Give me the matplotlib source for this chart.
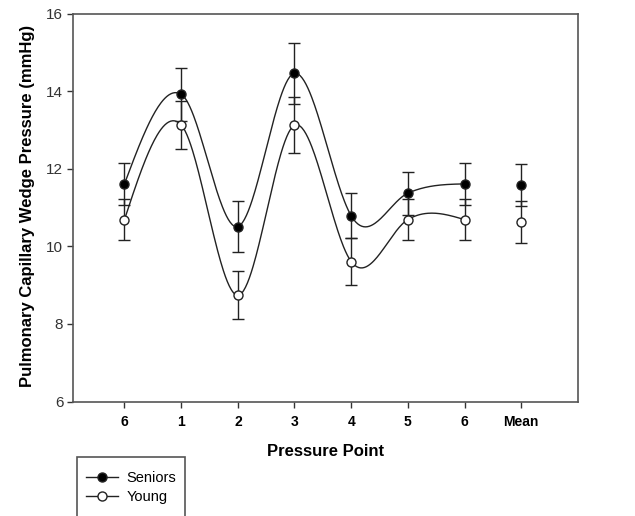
import numpy as np
import matplotlib
matplotlib.use("Agg")
import matplotlib.pyplot as plt
from matplotlib.patches import Rectangle
from matplotlib.lines import Line2D

plt.rcParams['font.family'] = ['Liberation Sans', 'DejaVu Sans']

# Data
points = ["6", "1", "2", "3", "4", "5", "6", "Mean"]
seniors = [11.61, 13.92, 10.51, 14.46, 10.79, 11.37, 11.61, 11.58]
seniors_err = [0.55, 0.68, 0.66, 0.79, 0.58, 0.55, 0.55, 0.55]
young = [10.69, 13.13, 8.74, 13.12, 9.61, 10.69, 10.69, 10.63]
young_err = [0.53, 0.61, 0.62, 0.72, 0.60, 0.53, 0.53, 0.55]


def smooth_curve(y, k=0.8, per_seg=60):
    """
    Cardinal (Hermite) spline through equally spaced points.
    """
    y = np.asarray(y, float)
    n = len(y)
    m = np.zeros(n)
    m[1:-1] = k * (y[2:] - y[:-2])
    m[0] = 1.5 * (y[1] - y[0]) - m[1] / 2
    m[-1] = 1.5 * (y[-1] - y[-2]) - m[-2] / 2
    xs, ys = [], []
    t = np.linspace(0, 1, per_seg)
    for i in range(n - 1):
        h00 = 2 * t**3 - 3 * t**2 + 1
        h10 = t**3 - 2 * t**2 + t
        h01 = -2 * t**3 + 3 * t**2
        h11 = t**3 - t**2
        xs.append(i + t)
        ys.append(h00 * y[i] + h10 * m[i] + h01 * y[i + 1] + h11 * m[i + 1])
    return np.concatenate(xs), np.concatenate(ys)


fig = plt.figure(figsize=(6.35, 5.16), dpi=100)
ax = fig.add_axes([0.1157, 0.2217, 0.7943, 0.7521])

x = np.arange(len(points))
n_curve = 7  # the mean is not joined by the curve

for vals, errs, face in [(seniors, seniors_err, 'black'), (young, young_err, 'white')]:
    xs, ys = smooth_curve(vals[:n_curve])
    ax.plot(xs, ys, color='#222222', lw=1.0, zorder=2)
    ax.errorbar(x, vals, yerr=errs, fmt='none', ecolor='#222222',
                elinewidth=1.0, capsize=4, capthick=1.0, zorder=3)
    ax.plot(x, vals, 'o', ms=6.5, mfc=face, mec='#222222', mew=1.0, zorder=4)

ax.set_xlim(-0.9, 8.0)
ax.set_ylim(6, 16)
ax.set_xticks(x)
ax.set_xticklabels(points, fontweight='bold', fontsize=10)
ax.set_yticks([6, 8, 10, 12, 14, 16])
ax.tick_params(direction='out', length=4, width=1.0, color='#333333')
ax.tick_params(axis='x', pad=6)
ax.tick_params(axis='y', labelsize=11, labelcolor='#333333', pad=3.3)
for s in ax.spines.values():
    s.set_color('#555555')
    s.set_linewidth(1.2)

ax.set_xlabel('Pressure Point', fontsize=12, fontweight='bold')
ax.set_ylabel('Pulmonary Capillary Wedge Pressure (mmHg)', fontsize=12,
              fontweight='bold')
ax.xaxis.set_label_coords(0.5, -0.108)
ax.yaxis.set_label_coords(-0.077, 0.503)

# legend box runs off the bottom of the figure
fig.patches.append(Rectangle((76.6 / 635, -0.05), 108 / 635, 0.05 + (516 - 457) / 516,
                             transform=fig.transFigure, fill=False,
                             edgecolor='#555555', lw=1.2))
handles = [Line2D([], [], color='#222222', lw=1.0, marker='o', ms=6.5,
                  mfc=f, mec='#222222') for f in ('black', 'white')]
fig.legend(handles, ['Seniors', 'Young'], loc='upper left',
           bbox_to_anchor=(86.4 / 635, 1 - 471 / 516), frameon=False, fontsize=10.5,
           handlelength=2.2, handletextpad=0.55, labelspacing=0.33,
           borderaxespad=0, borderpad=0)

fig.savefig('out.png', dpi=100)
